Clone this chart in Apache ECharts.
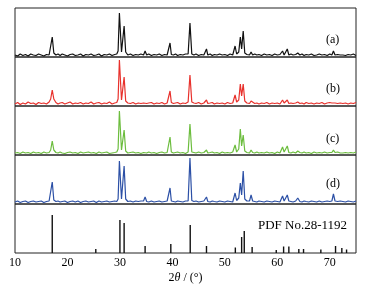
<!DOCTYPE html>
<html>
<head>
<meta charset="utf-8">
<script src="https://cdn.jsdelivr.net/npm/echarts@6/dist/echarts.min.js"></script>
<style>
  html, body { margin: 0; padding: 0; background: #fff; }
  #chart { width: 366px; height: 287px; }
</style>
</head>
<body>
<div id="chart"></div>
<script>
// 2θ grid shared by the four measured patterns
const twoTheta = [
  10, 10.5, 11, 11.5, 12, 12.5, 13, 13.5, 14, 14.5,
  15, 15.5, 16, 16.5, 16.8, 17.1, 17.4, 17.8, 18.2, 18.6,
  19, 19.5, 20, 20.5, 21, 21.5, 22, 22.5, 23, 23.5,
  24, 24.5, 25, 25.5, 26, 26.5, 27, 27.5, 28, 28.5,
  29, 29.4, 29.65, 29.9, 30.3, 30.55, 30.8, 31.1, 31.5, 32,
  32.5, 33, 33.5, 34, 34.5, 34.8, 35.1, 35.5, 36, 36.5,
  37, 37.5, 38, 38.5, 39, 39.3, 39.55, 39.8, 40.2, 40.6,
  41, 41.5, 42, 42.5, 43, 43.35, 43.7, 44.1, 44.5, 45,
  45.5, 46, 46.25, 46.5, 46.75, 47.2, 47.6, 48, 48.5, 49,
  49.5, 50, 50.5, 51, 51.5, 51.7, 51.95, 52.25, 52.65, 52.95,
  53.2, 53.5, 53.8, 54.2, 54.7, 55, 55.3, 55.7, 56.1, 56.5,
  57, 57.5, 58, 58.5, 59, 59.5, 60, 60.5, 60.8, 61,
  61.3, 61.6, 61.9, 62.2, 62.6, 63, 63.5, 63.9, 64.3, 64.7,
  65.1, 65.5, 66, 66.5, 67, 67.5, 68, 68.5, 69, 69.5,
  70, 70.4, 70.7, 71, 71.5, 72, 72.2, 72.5, 73, 73.5,
  74, 74.5, 75
]

// intensities (a.u.)
const intensityA = [
  2, 1, 3, 1.5, 2.5, 1, 3, 2, 1.5, 3,
  2, 1, 2.5, 2, 4, 20, 4, 2, 3, 1.5,
  3, 2, 1, 2.5, 3, 1.5, 2, 3, 1, 2.5,
  2, 3, 1.5, 2, 3, 1, 2.5, 2, 3, 1.5,
  2.5, 3, 6, 44, 5, 6, 31, 5, 2, 3,
  1.5, 2.5, 2, 3, 2, 6, 2, 3, 1.5, 2.5,
  2, 3, 1.5, 2.5, 2, 3, 14, 2.5, 2, 3,
  1.5, 2.5, 2, 3, 3, 34, 3, 2, 3, 1.5,
  2.5, 2, 2.5, 8, 2, 3, 1.5, 2.5, 2, 3,
  2, 2.5, 1.5, 3, 2, 3, 11, 3, 5, 20,
  8, 26, 4, 2.5, 2, 5, 2, 3, 2, 2.5,
  1.5, 3, 2, 2.5, 1.5, 3, 2, 2.5, 2, 6,
  2, 2.5, 8, 2, 3, 2, 2.5, 4, 2, 3,
  1.5, 2.5, 2, 3, 1.5, 2, 3, 2, 2.5, 1.5,
  3, 2, 6, 2, 2.5, 2, 3, 2, 1.5, 2.5,
  2, 3, 1.5
]
const intensityB = [
  2, 3.5, 1.5, 3, 2, 4, 2.5, 3, 1.5, 3.5,
  2.5, 3, 2, 4, 7, 16, 7, 3.5, 2, 3,
  3.5, 2, 3, 4, 2, 3, 2.5, 3.5, 2, 3,
  2.5, 4, 2, 3, 3.5, 2, 3, 2.5, 4, 2,
  3, 3.5, 7, 46, 6, 7, 29, 5, 3, 2.5,
  3.5, 2, 3, 2.5, 3, 5, 2.5, 3, 3.5, 2,
  3, 2.5, 3.5, 2, 3, 4, 15, 3.5, 2.5, 3,
  3.5, 2, 3, 2.5, 4, 31, 4, 3, 2.5, 3.5,
  2, 3, 3, 6, 2.5, 3, 3.5, 2, 3, 2.5,
  3, 2, 3.5, 2.5, 3, 4, 11, 4, 6, 22,
  10, 22, 5, 3, 2.5, 5, 3, 2.5, 3, 2,
  3, 2.5, 3.5, 2, 3, 2.5, 3, 2, 3, 6,
  3, 3, 6, 2.5, 3, 2.5, 3, 4, 2.5, 3,
  2, 3.5, 2.5, 3, 2, 3, 2.5, 3.5, 2, 3,
  3.5, 3, 5, 3, 2.5, 3, 4, 2.5, 3, 2,
  3, 2.5, 3.5
]
const intensityC = [
  2, 2.5, 1.5, 3, 2, 2.5, 1.5, 3, 2, 2.5,
  1.5, 3, 2, 2.5, 5, 14, 5, 2.5, 2, 3,
  2, 1.5, 2.5, 3, 2, 2.5, 1.5, 3, 2, 2.5,
  3, 2, 2.5, 1.5, 3, 2, 2.5, 3, 1.5, 2,
  2.5, 3, 6, 44, 5, 5, 25, 4, 2, 2.5,
  3, 2, 2.5, 1.5, 2.5, 4, 2, 3, 2, 2.5,
  1.5, 2.5, 3, 2, 2.5, 3, 18, 3, 2, 2.5,
  3, 2, 2.5, 1.5, 3, 31, 3, 2.5, 2, 3,
  2, 2.5, 2.5, 5, 2, 2.5, 3, 2, 2.5, 1.5,
  3, 2, 2.5, 2, 3, 3.5, 10, 3, 6, 26,
  9, 20, 4, 2.5, 2, 5, 2.5, 2, 3, 2,
  2.5, 2, 3, 2, 2.5, 1.5, 3, 2, 3, 8,
  3, 3, 9, 2.5, 2, 3, 2, 4, 2.5, 2,
  3, 2, 2.5, 1.5, 3, 2, 2.5, 2, 3, 2,
  2.5, 2.5, 5, 2.5, 3, 2, 3, 2, 2.5, 2,
  2.5, 2, 3
]
const intensityD = [
  2, 3, 1.5, 2.5, 3, 1.5, 2.5, 3, 2, 2.5,
  3, 1.5, 2.5, 3, 4, 22, 4, 2.5, 3, 2,
  2.5, 3, 1.5, 2.5, 3, 2, 3, 1.5, 2.5, 3,
  2, 2.5, 3, 1.5, 3, 2, 2.5, 3, 2, 2.5,
  3, 2.5, 5, 43, 5, 6, 38, 5, 2.5, 3,
  2, 3, 2.5, 3, 3, 7, 2.5, 2, 3, 2,
  2.5, 3, 2, 2.5, 3, 3, 16, 3, 2.5, 2,
  3, 2.5, 2, 3, 3, 46, 3.5, 2.5, 3, 2,
  2.5, 3, 3, 7, 2.5, 2, 3, 2.5, 2, 3,
  2.5, 2, 3, 2.5, 2, 3.5, 11, 3.5, 6, 21,
  9, 33, 5, 3, 3, 9, 3, 2.5, 2, 3,
  2.5, 2, 3, 2.5, 2, 3, 2.5, 2, 3, 8,
  3, 3, 9, 3, 2.5, 2, 3, 6, 2.5, 2,
  3, 2.5, 2, 3, 2.5, 2, 3, 2, 2.5, 3,
  2.5, 3, 10, 3, 2.5, 3, 5, 2.5, 2, 3,
  2.5, 2, 3
]

// standard card PDF No.28-1192
const refPos = [17.1, 25.4, 30.0, 30.8, 34.8, 39.7, 43.4, 46.5, 52.0, 53.2, 53.7, 55.2, 59.8, 61.2, 62.2, 64.1, 65.0, 68.3, 71.1, 72.3, 73.2]
const refInt = [38, 4, 33, 30, 7, 9, 28, 7, 5.5, 16, 22, 6, 3, 6.5, 6.5, 4, 4, 3.5, 7, 5, 3.5]

const sampleNames = ['(a)', '(b)', '(c)', '(d)']
const sampleColors = ['#111111', '#e8312c', '#6cbd3e', '#2c50a6']
const xTicks = [10, 20, 30, 40, 50, 60, 70]

const chart = echarts.init(document.getElementById('chart'))
const serif = 'Liberation Serif'
const samples = [intensityA, intensityB, intensityC, intensityD]

const grids = []
const xAxes = []
const yAxes = []
const series = []
for (let i = 0; i < 5; i++) {
  grids.push({
    left: 15, right: 10, top: 8 + i * 49, height: 49,
    show: true, borderColor: '#222', borderWidth: 1
  })
  const last = i === 4
  xAxes.push({
    gridIndex: i, type: 'value', min: 10, max: 75, interval: 10,
    axisLine: { show: false }, axisTick: { show: false }, splitLine: { show: false },
    axisLabel: {
      show: last, color: '#000', fontFamily: serif, fontSize: 12, margin: 4,
      formatter: v => (xTicks.indexOf(v) >= 0 ? String(v) : '')
    },
    name: last ? '{n|2}{i|θ}{n| / (°)}' : '',
    nameLocation: 'middle', nameGap: 19,
    nameTextStyle: {
      rich: {
        n: { fontFamily: serif, fontSize: 12, color: '#000' },
        i: { fontFamily: serif, fontSize: 12, fontStyle: 'italic', color: '#000' }
      }
    }
  })
  yAxes.push({
    gridIndex: i, type: 'value', min: 0, max: 49, show: false, splitLine: { show: false }
  })
}

samples.forEach((vals, i) => {
  series.push({
    type: 'line', xAxisIndex: i, yAxisIndex: i,
    data: twoTheta.map((t, k) => [t, vals[k]]),
    showSymbol: false, symbol: 'none', silent: true,
    lineStyle: { color: sampleColors[i], width: 1.2 }
  })
})

series.push({
  type: 'bar', xAxisIndex: 4, yAxisIndex: 4,
  data: refPos.map((p, k) => [p, refInt[k]]),
  barWidth: 1.4, silent: true,
  itemStyle: { color: '#111' }
})

const labelText = (txt, x, y) => ({
  type: 'text', left: x, top: y,
  style: { text: txt, font: '12px "Liberation Serif"', fill: '#000' }
})

chart.setOption({
  animation: false,
  backgroundColor: '#fff',
  grid: grids,
  xAxis: xAxes,
  yAxis: yAxes,
  series: series,
  graphic: [
    labelText(sampleNames[0], 326, 34),
    labelText(sampleNames[1], 326, 83),
    labelText(sampleNames[2], 326, 133),
    labelText(sampleNames[3], 326, 178),
    { type: 'text', left: 258, top: 219,
      style: { text: 'PDF No.28-1192', font: '13px "Liberation Serif"', fill: '#000' } }
  ]
})
</script>
</body>
</html>
